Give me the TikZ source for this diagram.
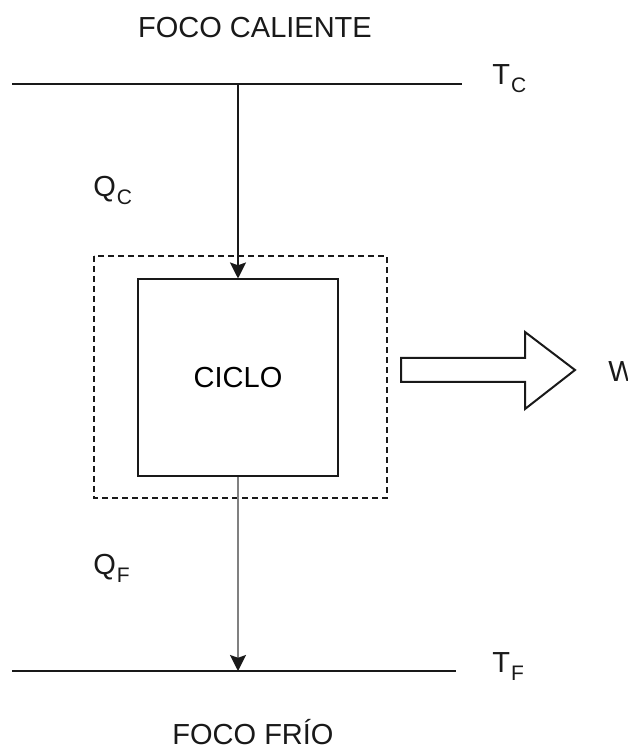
\documentclass[tikz,border=0pt]{standalone}
\usepackage{fontspec}
\setmainfont{Liberation Sans}
\usepackage{tikz}
\usetikzlibrary{arrows.meta, positioning}

\newcommand{\lbl}[2]{#1\kern0.5pt\raisebox{-4pt}{\fontsize{10.5}{12}\selectfont #2}}

\begin{document}
\begin{tikzpicture}[x=0.5pt,y=0.5pt,>={Stealth[length=8pt,width=8pt,inset=1.4pt]},
    txt/.style={font=\fontsize{14.5}{17}\selectfont, text=black!90, inner sep=0pt},
    focus/.style={line width=1pt, draw=black!90},
    flow/.style={->, line width=1pt, draw=black!90},
    cycbox/.style={draw=black!90, line width=1pt, minimum width=100pt,
                   minimum height=98.5pt, inner sep=0pt, font=\fontsize{14.5}{17}\selectfont}]
    \useasboundingbox (0,0) rectangle (627,749);

    % reservoirs
    \coordinate (hotL) at (12,665);
    \coordinate (hotR) at (462,665);
    \coordinate (coldL) at (12,78);
    \coordinate (coldR) at (456,78);
    \draw[focus] (hotL) -- (hotR);
    \draw[focus] (coldL) -- (coldR);
    \node[txt, anchor=base] (hot) at (255,711) {FOCO CALIENTE};
    \node[txt, anchor=base] (cold) at (253,4) {FOCO FRÍO};
    \node[txt, anchor=base west] (tc) at (492,664) {\lbl{T}{C}};
    \node[txt, anchor=base west] (tf) at (492,76) {\lbl{T}{F}};

    % cycle and its boundary
    \node[cycbox] (ciclo) at (238,371) {CICLO};
    \draw[dashed, dash pattern=on 3pt off 2pt, line width=0.9pt, draw=black!90]
      (94,493) rectangle (387,251);

    % heat flows
    \coordinate (qin) at (ciclo.north |- hotL);
    \coordinate (qout) at (ciclo.south |- coldL);
    \draw[flow] (qin) -- (ciclo.north);
    \draw[-{Stealth[length=8pt,width=8pt,inset=1.4pt,color=black!90]},
          line width=1pt, draw=black!50] (ciclo.south) -- (qout);
    \node[txt, anchor=base west] (qc) at (93,552) {\lbl{Q}{C}};
    \node[txt, anchor=base west] (qf) at (93,174) {\lbl{Q}{F}};

    % work output
    \draw[line width=1pt, draw=black!90, fill=white]
      (401,391) -- (525,391) -- (525,417) -- (575,379) -- (525,340)
      -- (525,367) -- (401,367) -- cycle;
    \node[txt, anchor=base west] (w) at (608,367) {W};
  \end{tikzpicture}
\end{document}
